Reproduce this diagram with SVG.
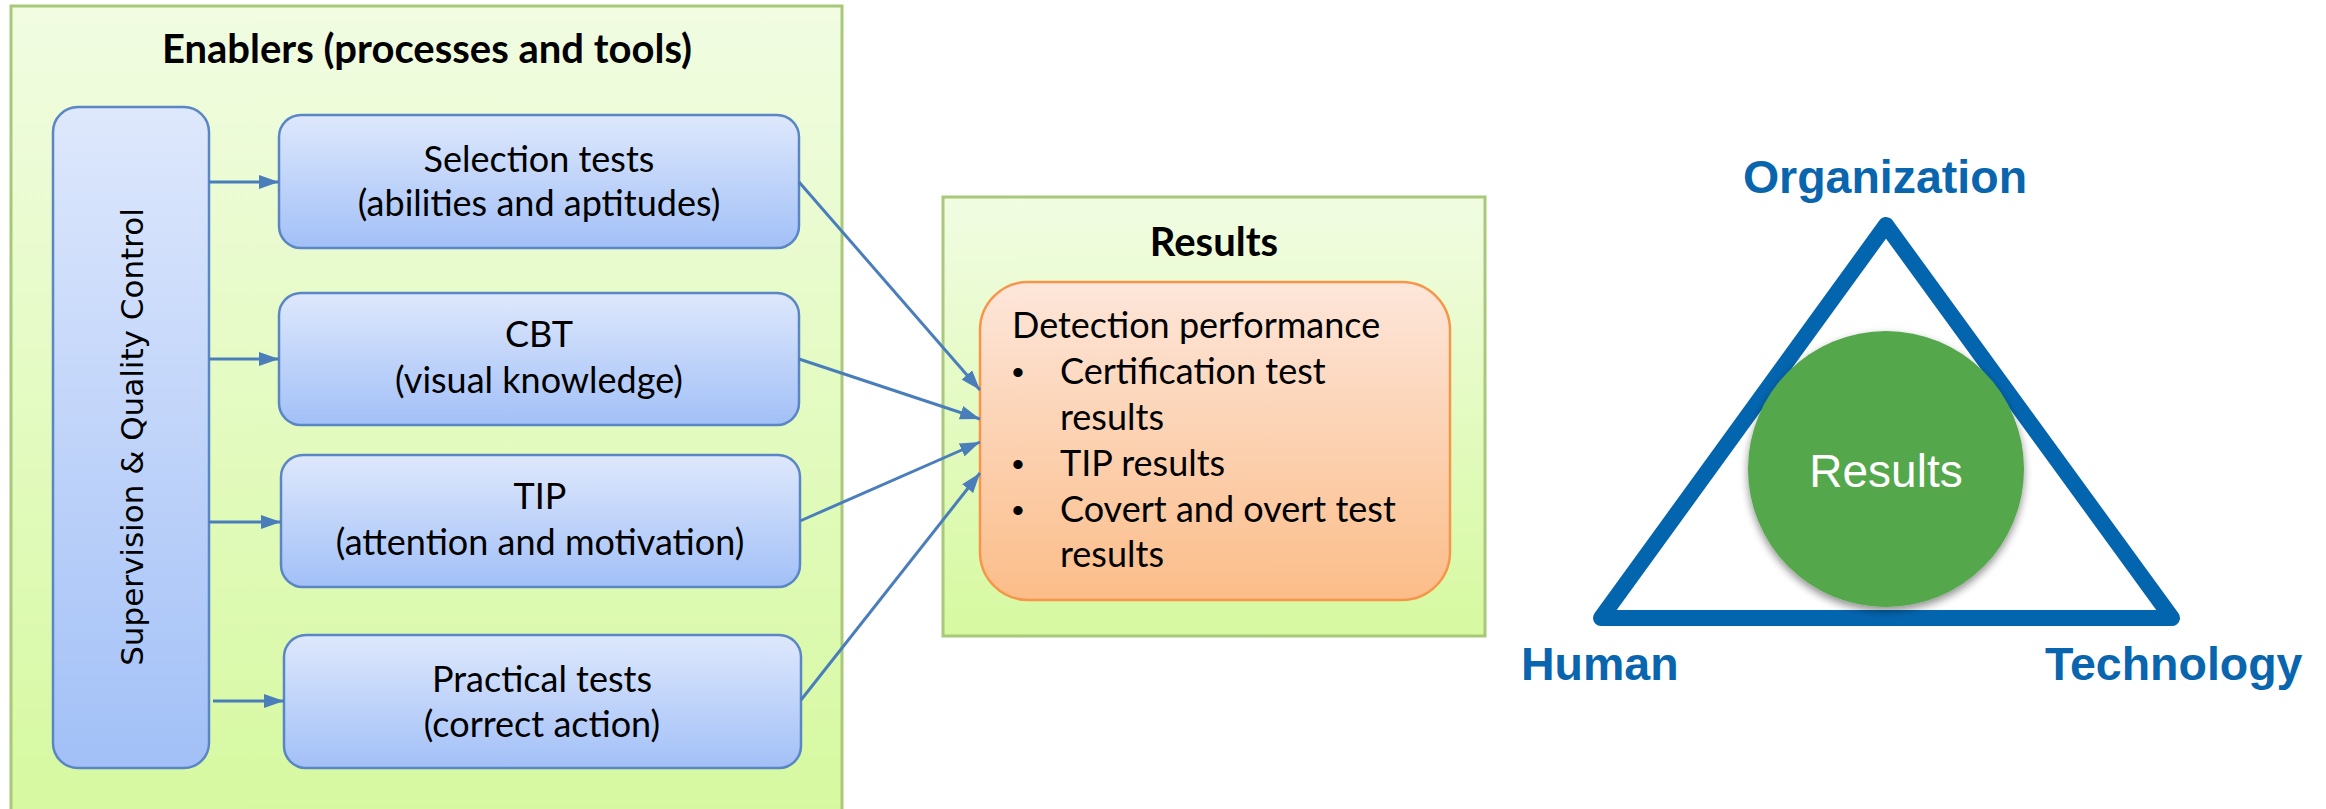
<svg xmlns="http://www.w3.org/2000/svg" width="2326" height="809" viewBox="0 0 2326 809">
  <defs>
    <linearGradient id="gGreen" x1="0" y1="0" x2="0" y2="1">
      <stop offset="0" stop-color="#F1FCE2"/>
      <stop offset="1" stop-color="#D6F9A0"/>
    </linearGradient>
    <linearGradient id="gBlue" x1="0" y1="0" x2="0" y2="1">
      <stop offset="0" stop-color="#DEE8FC"/>
      <stop offset="1" stop-color="#A2C0F7"/>
    </linearGradient>
    <linearGradient id="gOrange" x1="0" y1="0" x2="0" y2="1">
      <stop offset="0" stop-color="#FDE6DA"/>
      <stop offset="1" stop-color="#FBBD89"/>
    </linearGradient>
    <marker id="arrow" viewBox="0 0 20 14" refX="20" refY="7" markerWidth="20" markerHeight="14" markerUnits="userSpaceOnUse" orient="auto">
      <path d="M0,0 L20,7 L0,14 Z" fill="#4A7EBB"/>
    </marker>
    <filter id="softShadow" x="-20%" y="-20%" width="140%" height="140%">
      <feGaussianBlur in="SourceAlpha" stdDeviation="4"/>
      <feOffset dx="0" dy="4" result="blur"/>
      <feComponentTransfer><feFuncA type="linear" slope="0.45"/></feComponentTransfer>
      <feMerge><feMergeNode/><feMergeNode in="SourceGraphic"/></feMerge>
    </filter>
    <style>
      .panel { fill: url(#gGreen); stroke: #A8C87A; stroke-width: 3; }
      .step { fill: url(#gBlue); stroke: #5A86C5; stroke-width: 2.5; }
      .outcome { fill: url(#gOrange); stroke: #F7964A; stroke-width: 2.5; }
      .head { font-family: Lato, "Open Sans", sans-serif; font-weight: bold; font-size: 40px; fill: #000; text-anchor: middle; }
      .lbl { font-family: Lato, "Open Sans", sans-serif; font-size: 36px; fill: #000; text-anchor: middle; }
      .body { font-family: Lato, "Open Sans", sans-serif; font-size: 36px; fill: #000; }
      .dot { font-family: "Liberation Sans", Arial, sans-serif; font-size: 34px; fill: #000; }
      .vert { font-family: "DejaVu Sans", Verdana, sans-serif; font-size: 31px; fill: #000; text-anchor: middle; }
      .conn { stroke: #4A7EBB; stroke-width: 3; fill: none; marker-end: url(#arrow); }
      .pillar { font-family: "Liberation Sans", Arial, sans-serif; font-weight: bold; font-size: 46.5px; fill: #0865AE; }
    </style>
  </defs>

  <rect width="2326" height="809" fill="#FFFFFF"/>

  <!-- Enablers panel -->
  <g id="enablers">
    <rect class="panel" x="11" y="6" width="831" height="806"/>
    <text class="head" x="427" y="63">Enablers (processes and tools)</text>
  </g>

  <!-- Supervision column -->
  <g id="supervision">
    <rect class="step" x="53" y="107" width="156" height="661" rx="25" ry="25"/>
    <text class="vert" transform="translate(143 437) rotate(-90)">Supervision &amp; Quality Control</text>
  </g>

  <g id="selection">
    <rect class="step" x="279" y="115" width="520" height="133" rx="22" ry="22"/>
    <text class="lbl" x="539" y="172">Selection tests</text>
    <text class="lbl" x="539" y="216">(abilities and aptitudes)</text>
  </g>

  <g id="cbt">
    <rect class="step" x="279" y="293" width="520" height="132" rx="22" ry="22"/>
    <text class="lbl" x="539" y="347">CBT</text>
    <text class="lbl" x="539" y="393">(visual knowledge)</text>
  </g>

  <g id="tip">
    <rect class="step" x="281" y="455" width="519" height="132" rx="22" ry="22"/>
    <text class="lbl" x="540" y="509">TIP</text>
    <text class="lbl" x="540" y="555">(attention and motivation)</text>
  </g>

  <g id="practical">
    <rect class="step" x="284" y="635" width="517" height="133" rx="22" ry="22"/>
    <text class="lbl" x="542" y="692">Practical tests</text>
    <text class="lbl" x="542" y="737">(correct action)</text>
  </g>

  <!-- Results panel -->
  <g id="results">
    <rect class="panel" x="943" y="197" width="542" height="439"/>
    <text class="head" x="1214" y="256">Results</text>
  </g>

  <g id="detection">
    <rect class="outcome" x="980" y="282" width="470" height="318" rx="48" ry="48"/>
    <text class="body" x="1012" y="338">Detection performance</text>
    <text class="dot" x="1012" y="384">•</text>
    <text class="body" x="1060" y="384">Certification test</text>
    <text class="body" x="1060" y="430">results</text>
    <text class="dot" x="1012" y="476">•</text>
    <text class="body" x="1060" y="476">TIP results</text>
    <text class="dot" x="1012" y="522">•</text>
    <text class="body" x="1060" y="522">Covert and overt test</text>
    <text class="body" x="1060" y="567">results</text>
  </g>

  <!-- Connectors -->
  <g id="connectors">
    <line class="conn" x1="209" y1="182" x2="279" y2="182"/>
    <line class="conn" x1="209" y1="359" x2="279" y2="359"/>
    <line class="conn" x1="209" y1="522" x2="281" y2="522"/>
    <line class="conn" x1="213" y1="701" x2="284" y2="701"/>
    <line class="conn" x1="799" y1="182" x2="980" y2="390"/>
    <line class="conn" x1="799" y1="359" x2="980" y2="419"/>
    <line class="conn" x1="800" y1="521" x2="980" y2="442"/>
    <line class="conn" x1="801" y1="700" x2="980" y2="473"/>
  </g>

  <!-- Organization / Human / Technology triangle -->
  <g id="triangle">
    <polygon points="1886,225 2172,618 1601,618" fill="none" stroke="#0465AF" stroke-width="16" stroke-linejoin="round"/>
  </g>

  <g id="results-circle">
    <circle cx="1886" cy="469" r="138" fill="#54A74C" filter="url(#softShadow)"/>
    <text x="1886" y="487" font-family="'Liberation Sans', Arial, sans-serif" font-size="46" fill="#FFFFFF" text-anchor="middle">Results</text>
  </g>

  <g id="organization">
    <text class="pillar" x="1885" y="193" text-anchor="middle">Organization</text>
  </g>
  <g id="human">
    <text class="pillar" x="1521" y="680">Human</text>
  </g>
  <g id="technology">
    <text class="pillar" x="2045" y="680">Technology</text>
  </g>
</svg>
